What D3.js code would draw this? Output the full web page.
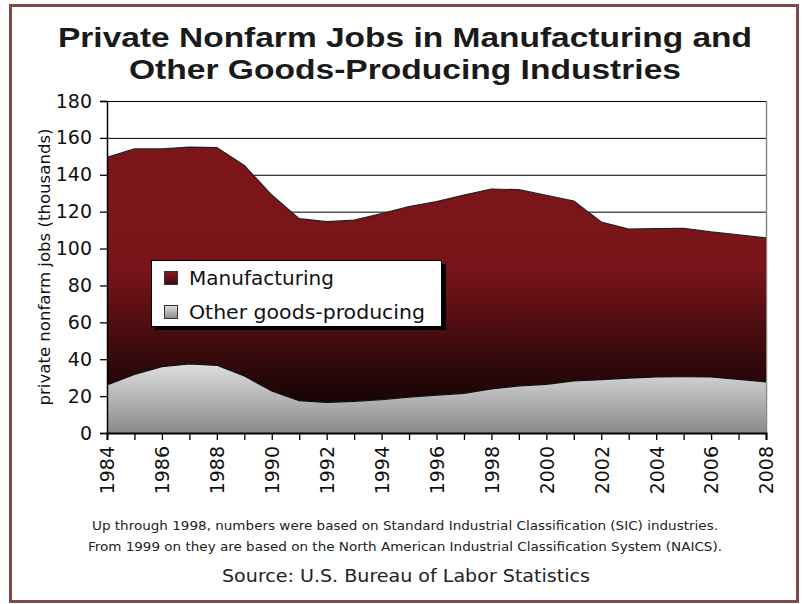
<!DOCTYPE html>
<html>
<head>
<meta charset="utf-8">
<script src="https://cdn.jsdelivr.net/npm/d3@7"></script>
<style>
html,body{margin:0;padding:0;background:#fff;}
svg{display:block;}
</style>
</head>
<body>
<svg id="chart" width="802" height="604"></svg>
<script>
const years = [1984,1985,1986,1987,1988,1989,1990,1991,1992,1993,1994,1995,1996,1997,1998,1999,2000,2001,2002,2003,2004,2005,2006,2007,2008];
const manufacturing = [149.5,154,154,155,154.8,145,129,116.2,114.6,115.4,119,122.8,125.4,129,132.3,131.9,128.9,125.8,114.4,110.6,110.8,111,109,107.5,105.8];
const otherGoods = [26,31.8,36,37.4,36.7,30.9,22.8,17.5,16.6,17.2,18.1,19.5,20.5,21.5,23.9,25.5,26.4,28.2,28.9,29.8,30.4,30.5,30.4,29.1,27.7];
const yTicks = [0,20,40,60,80,100,120,140,160,180];
const xLabelYears = [1984,1986,1988,1990,1992,1994,1996,1998,2000,2002,2004,2006,2008];
const seriesNames = ["Manufacturing","Other goods-producing"];
const titleLines = ["Private Nonfarm Jobs in Manufacturing and","Other Goods-Producing Industries"];
const yTitle = "private nonfarm jobs (thousands)";
const notes = ["Up through 1998, numbers were based on Standard Industrial Classification (SIC) industries.","From 1999 on they are based on the North American Industrial Classification System (NAICS)."];
const sourceText = "Source: U.S. Bureau of Labor Statistics";

const svg = d3.select("#chart");
const L = 107, R = 766, T = 101, B = 433;
const x = d3.scaleLinear().domain([1984,2008]).range([L,R]);
const y = d3.scaleLinear().domain([0,180]).range([B,T]);

const defs = svg.append("defs");
const gM = defs.append("linearGradient").attr("id","gM").attr("x1",0).attr("y1",0).attr("x2",0).attr("y2",1);
gM.append("stop").attr("offset","0%").attr("stop-color","#7c1519");
gM.append("stop").attr("offset","42%").attr("stop-color","#79151a");
gM.append("stop").attr("offset","100%").attr("stop-color","#000000");
const gO = defs.append("linearGradient").attr("id","gO").attr("x1",0).attr("y1",0).attr("x2",0).attr("y2",1);
gO.append("stop").attr("offset","0%").attr("stop-color","#dedede");
gO.append("stop").attr("offset","100%").attr("stop-color","#8a8a8a");
const gMs = defs.append("linearGradient").attr("id","gMs").attr("x1",0).attr("y1",0).attr("x2",0).attr("y2",1);
gMs.append("stop").attr("offset","0%").attr("stop-color","#8a1a1e");
gMs.append("stop").attr("offset","100%").attr("stop-color","#3a0a0c");
const gOs = defs.append("linearGradient").attr("id","gOs").attr("x1",0).attr("y1",0).attr("x2",0).attr("y2",1);
gOs.append("stop").attr("offset","0%").attr("stop-color","#e0e0e0");
gOs.append("stop").attr("offset","100%").attr("stop-color","#8a8a8a");

// outer frame
svg.append("rect").attr("x",10.5).attr("y",5.5).attr("width",787).attr("height",596)
  .attr("fill","#fff").attr("stroke","#7d4a45").attr("stroke-width",3);

// title
svg.selectAll("text.title").data(titleLines).enter().append("text")
  .attr("class","title")
  .attr("x",405).attr("y",(d,i)=>47+i*32)
  .attr("text-anchor","middle")
  .attr("font-family","'Liberation Sans', Arial, sans-serif").attr("font-weight","bold")
  .attr("font-size",28).attr("fill","#1a1a1a")
  .attr("textLength",(d,i)=> i===0 ? 694 : 552).attr("lengthAdjust","spacingAndGlyphs")
  .text(d=>d);

// gridlines
svg.append("g").selectAll("line").data(yTicks.filter(v=>v>0)).enter().append("line")
  .attr("x1",L).attr("x2",R).attr("y1",d=>y(d)+0.5).attr("y2",d=>y(d)+0.5)
  .attr("stroke","#000").attr("stroke-width",1);
// right border gray
svg.append("line").attr("x1",R+0.5).attr("x2",R+0.5).attr("y1",T).attr("y2",B)
  .attr("stroke","#888").attr("stroke-width",1.5);

const dM = years.map((yr,i)=>({yr, v:manufacturing[i]}));
const dO = years.map((yr,i)=>({yr, v:otherGoods[i]}));
const area = d3.area().x(d=>x(d.yr)).y0(y(0)).y1(d=>y(d.v));
const line = d3.line().x(d=>x(d.yr)).y(d=>y(d.v));

svg.append("path").datum(dM).attr("d",area).attr("fill","url(#gM)");
svg.append("path").datum(dM).attr("d",line).attr("fill","none").attr("stroke","#222").attr("stroke-width",1.2);
svg.append("path").datum(dO).attr("d",area).attr("fill","url(#gO)");
svg.append("path").datum(dO).attr("d",line).attr("fill","none").attr("stroke","#111").attr("stroke-width",1.2);

// axes
const yAxis = d3.axisLeft(y).tickValues(yTicks).tickSize(7).tickPadding(8);
const gy = svg.append("g").attr("transform",`translate(${L},0)`).call(yAxis);
gy.select(".domain").attr("stroke","#000").attr("stroke-width",1.5);
gy.selectAll(".tick line").attr("stroke","#000").attr("stroke-width",1.3);
gy.selectAll("text").attr("font-family","'DejaVu Sans', sans-serif").attr("font-size",19).attr("fill","#111");

const xAxis = d3.axisBottom(x).tickValues(years).tickSize(7).tickFormat(d=> xLabelYears.includes(d) ? String(d) : "");
const gx = svg.append("g").attr("transform",`translate(0,${B})`).call(xAxis);
gx.select(".domain").attr("stroke","#000").attr("stroke-width",2);
gx.selectAll(".tick line").attr("stroke","#000").attr("stroke-width",1.3);
gx.selectAll("text").attr("font-family","'DejaVu Sans', sans-serif").attr("font-size",19).attr("fill","#111")
  .attr("transform","rotate(-90)").attr("text-anchor","end").attr("dx","-13").attr("dy","0.36em").attr("y",0).attr("x",0);

// top border of plot
svg.append("line").attr("x1",L).attr("x2",R).attr("y1",T+0.5).attr("y2",T+0.5).attr("stroke","#000").attr("stroke-width",1.2);

// y title
svg.append("text").attr("transform",`translate(50,${(T+B)/2}) rotate(-90)`)
  .attr("text-anchor","middle").attr("font-family","'DejaVu Sans', sans-serif").attr("font-size",16.5).attr("fill","#111")
  .attr("textLength",277).attr("lengthAdjust","spacingAndGlyphs")
  .text(yTitle);

// legend
const lg = svg.append("g");
lg.append("rect").attr("x",155).attr("y",264).attr("width",291).attr("height",66).attr("fill","#000");
lg.append("rect").attr("x",151.5).attr("y",260.5).attr("width",290).attr("height",66).attr("fill","#fff").attr("stroke","#000").attr("stroke-width",1);
const li = lg.selectAll("g.item").data(seriesNames).enter().append("g").attr("class","item")
  .attr("transform",(d,i)=>`translate(0,${i*34})`);
li.append("rect").attr("x",164.5).attr("y",271.5).attr("width",13).attr("height",13)
  .attr("fill",(d,i)=> i===0 ? "url(#gMs)" : "url(#gOs)").attr("stroke","#333").attr("stroke-width",1);
li.append("text").attr("x",189).attr("y",285).attr("font-family","'DejaVu Sans', sans-serif").attr("font-size",20).attr("fill","#111")
  .attr("textLength",(d,i)=> i===0 ? 145 : 236).attr("lengthAdjust","spacingAndGlyphs")
  .text(d=>d);

// notes
svg.selectAll("text.note").data(notes).enter().append("text").attr("class","note")
  .attr("x",405).attr("y",(d,i)=>530+i*21).attr("text-anchor","middle")
  .attr("font-family","'Liberation Sans Narrow','DejaVu Sans Condensed','Liberation Sans',sans-serif").attr("font-size",13).attr("fill","#222")
  .attr("textLength",(d,i)=> i===0 ? 626 : 634).attr("lengthAdjust","spacingAndGlyphs")
  .text(d=>d);
svg.append("text").attr("x",406).attr("y",582).attr("text-anchor","middle")
  .attr("font-family","'Liberation Sans Narrow','DejaVu Sans Condensed','Liberation Sans',sans-serif").attr("font-size",18).attr("fill","#222")
  .attr("textLength",368).attr("lengthAdjust","spacingAndGlyphs")
  .text(sourceText);
</script>
</body>
</html>
